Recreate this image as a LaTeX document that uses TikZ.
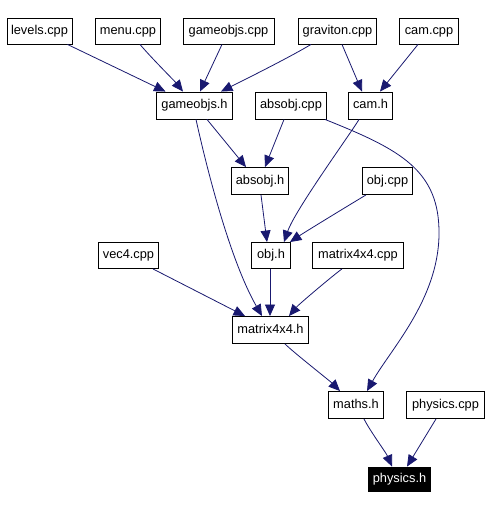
\documentclass[tikz,border=0pt]{standalone}
\usepackage{fontspec}
\setmainfont{Liberation Sans}
\usetikzlibrary{arrows.meta}
\definecolor{edgecol}{HTML}{191970}
\begin{document}
\begin{tikzpicture}[x=1pt,y=-1pt,
  box/.style={draw=black,line width=0.9pt,fill=white,inner sep=0pt,minimum height=26pt,text height=9.5pt,text depth=2.8pt,font=\fontsize{12.8}{15}\selectfont},
  hbox/.style={box,fill=black,text=white,minimum height=24pt},
  edge/.style={draw=edgecol,line width=0.8pt,-{Triangle[length=11.5pt,width=10pt]}}]
\useasboundingbox (0,0) rectangle (490,510);
\fill[white] (0,0) rectangle (490,510);
% nodes
\node[box,minimum width=65pt] (levels) at (39.5,31) {levels.cpp};
\node[box,minimum width=65pt] (menu) at (128,31) {menu.cpp};
\node[box,minimum width=91pt] (gcpp) at (228.5,31) {gameobjs.cpp};
\node[box,minimum width=78pt] (grav) at (337.5,31) {graviton.cpp};
\node[box,minimum width=59pt] (camcpp) at (429,31) {cam.cpp};
\node[box,minimum width=76pt,minimum height=27pt] (gh) at (194.5,105.5) {gameobjs.h};
\node[box,minimum width=71pt,minimum height=27pt] (acpp) at (291,105.5) {absobj.cpp};
\node[box,minimum width=44pt,minimum height=27pt] (camh) at (370.5,105.5) {cam.h};
\node[box,minimum width=57pt,minimum height=27pt] (ah) at (260,181) {absobj.h};
\node[box,minimum width=50pt,minimum height=27pt] (objcpp) at (387.5,181) {obj.cpp};
\node[box,minimum width=39pt] (objh) at (271,255.5) {obj.h};
\node[box,minimum width=60pt] (vec) at (128.5,255.5) {vec4.cpp};
\node[box,minimum width=91pt] (mcpp) at (358,255.5) {matrix4x4.cpp};
\node[box,minimum width=76pt,minimum height=27pt] (mh) at (270.5,330) {matrix4x4.h};
\node[box,minimum width=55pt,minimum height=27pt] (maths) at (356,405) {maths.h};
\node[box,minimum width=78pt,minimum height=27pt] (pcpp) at (445.5,405) {physics.cpp};
\node[hbox,minimum width=62pt] (ph) at (399.5,479) {physics.h};
% edges
\draw[edge] (levels) -- (gh);
\draw[edge] ([xshift=12pt]menu.south) .. controls +(10,12) and +(-8,-10) .. ([xshift=-11.5pt]gh.north);
\draw[edge] ([xshift=-6.5pt]gcpp.south) -- ([xshift=5.5pt]gh.north);
\draw[edge] ([xshift=-26.5pt]grav.south) .. controls +(-20,12) and +(30,-15) .. ([xshift=26.5pt]gh.north);
\draw[edge] ([xshift=4.5pt]grav.south) -- ([xshift=-8.5pt]camh.north);
\draw[edge] ([xshift=-11pt]camcpp.south) -- ([xshift=9.5pt]camh.north);
\draw[edge] ([xshift=12.5pt]gh.south) -- ([xshift=-14pt]ah.north);
\draw[edge] ([xshift=-7pt]acpp.south) -- ([xshift=5pt]ah.north);
\draw[edge] ([xshift=-11.5pt]camh.south) .. controls +(-9,15) and +(11,-32) .. ([xshift=13pt]objh.north);
\draw[edge] ([xshift=1pt]ah.south) -- ([xshift=-4pt]objh.north);
\draw[edge] ([xshift=-21.5pt]objcpp.south) .. controls +(-20,12) and +(15,-10) .. ([xshift=-1pt]objh.north east);
\draw[edge] ([xshift=1.5pt]gh.south) .. controls +(11,50) and +(-32,-56) .. ([xshift=-8.5pt]mh.north);
\draw[edge] ([xshift=24.5pt]vec.south) -- ([xshift=-25.5pt]mh.north);
\draw[edge] ([xshift=-1pt]objh.south) -- ([xshift=-0.5pt]mh.north);
\draw[edge] ([xshift=-16pt]mcpp.south) .. controls +(-6,4) and +(10,-12) .. ([xshift=18.5pt]mh.north);
\draw[edge] ([xshift=34pt]acpp.south) .. controls +(75,30) and +(1,-65) .. (439,235) .. controls +(-1,65) and +(23,-41) .. ([xshift=11pt]maths.north);
\draw[edge] ([xshift=14.5pt]mh.south) .. controls +(8,8) and +(-10,-10) .. ([xshift=-16pt]maths.north);
\draw[edge] ([xshift=8pt]maths.south) .. controls +(6,12) and +(-6,-14) .. ([xshift=-7.5pt]ph.north);
\draw[edge] ([xshift=-9.5pt]pcpp.south) -- ([xshift=7.5pt]ph.north);
\end{tikzpicture}
\end{document}
